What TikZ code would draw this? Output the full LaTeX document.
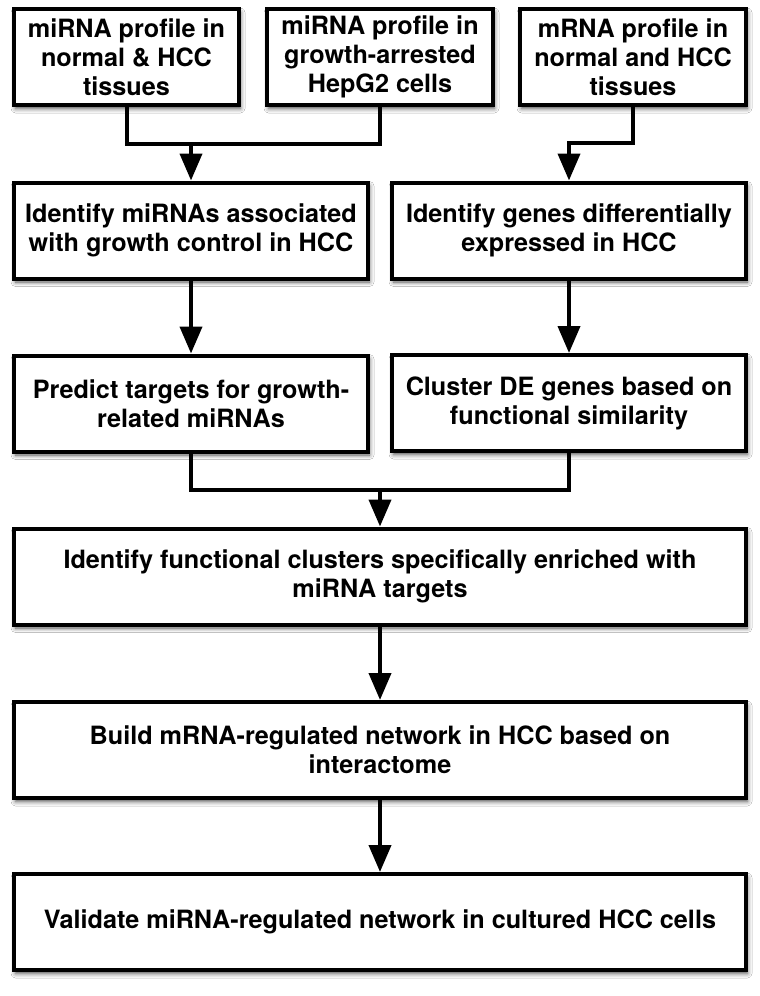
\documentclass[tikz,border=0pt]{standalone}
\usepackage{fontspec}
\setmainfont{TeX Gyre Heros}
\usetikzlibrary{arrows.meta,shadows.blur}
\begin{document}
\begin{tikzpicture}[x=1pt,y=-1pt,
  box/.style={draw, line width=4pt, fill=white, align=center,
    font=\bfseries\fontsize{25.2}{29}\selectfont, inner sep=0pt, minimum height=96pt,
    blur shadow={shadow xshift=1.5pt, shadow yshift=-3.5pt, shadow blur radius=4.5pt, shadow opacity=70}},
  conn/.style={line width=4pt},
  arr/.style={line width=4pt, -{Triangle[width=22pt,length=27pt]}}]
\useasboundingbox (0,0) rectangle (760,996);
\fill[white] (0,0) rectangle (760,996);

\node[box, minimum width=225pt] (A) at (126.5,57) {miRNA profile in\\normal \& HCC\\tissues};
\node[box, minimum width=226pt] (B) at (380,57) {miRNA profile in\\growth-arrested\\HepG2 cells};
\node[box, minimum width=226pt] (C) at (633,57) {mRNA profile in\\normal and HCC\\tissues};
\node[box, minimum width=354pt] (D) at (191,230.5) {Identify miRNAs associated\\with growth control in HCC};
\node[box, minimum width=354pt] (E) at (569,230.5) {Identify genes differentially\\expressed in HCC};
\node[box, minimum width=354pt] (F) at (191,403.5) {Predict targets for growth-\\related miRNAs};
\node[box, minimum width=354pt] (G) at (569,403) {Cluster DE genes based on\\functional similarity};
\node[box, minimum width=732pt] (H) at (380,576.5) {Identify functional clusters specifically enriched with\\miRNA targets};
\node[box, minimum width=732pt] (I) at (380,750) {Build mRNA-regulated network in HCC based on\\interactome};
\node[box, minimum width=732pt] (J) at (380,922) {Validate miRNA-regulated network in cultured HCC cells};

\coordinate (m1) at (191,144);
\draw[conn] (A.south) |- (B.south |- m1) -- (B.south);
\draw[arr] (m1) -- (D.north);
\coordinate (m2) at (569,143);
\draw[arr] (C.south) |- (m2) -- (E.north);
\draw[arr] (D.south) -- (F.north);
\draw[arr] (E.south) -- (G.north);
\coordinate (m3) at (380,490);
\draw[conn] (F.south) |- (G.south |- m3) -- (G.south);
\draw[arr] (m3) -- (H.north);
\draw[arr] (H.south) -- (I.north);
\draw[arr] (I.south) -- (J.north);
\end{tikzpicture}
\end{document}
